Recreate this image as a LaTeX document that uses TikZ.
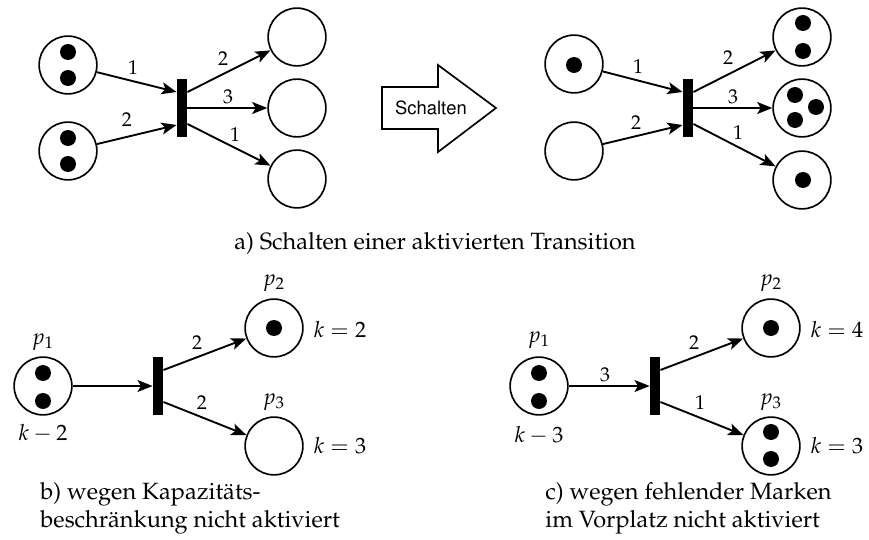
\documentclass[tikz,border=0pt]{standalone}
\usepackage[T1]{fontenc}
\usepackage{mathpazo}
\usepackage[scaled=0.92]{helvet}
\usetikzlibrary{arrows.meta,calc}

\begin{document}
\begin{tikzpicture}[x=0.45pt,y=-0.45pt,
  place/.style={circle,draw,line width=0.75pt,minimum size=26pt,inner sep=0pt},
  trans/.style={rectangle,fill=black,minimum width=4.5pt,minimum height=25.7pt,inner sep=0pt},
  token/.style={circle,fill=black,minimum size=7.2pt,inner sep=0pt},
  arc/.style={line width=0.85pt,-{Stealth[length=6.8pt,width=5.4pt,inset=1.6pt]}},
  wt/.style={font=\small,inner sep=0pt},
  lab/.style={inner sep=0pt},
  captext/.style={inner sep=0pt,align=left,anchor=west,font=\fontsize{10.6}{12.6}\selectfont}]

\useasboundingbox[fill=white] (0,0) rectangle (869,540);

% ---------- a) before firing ----------
\node[place] (aL1) at (68,65) {};
\node[token] (aL1t1) at (68,52) {};
\node[token] (aL1t2) at (68,78) {};
\node[place] (aL2) at (68,151) {};
\node[token] (aL2t1) at (68,138) {};
\node[token] (aL2t2) at (68,164) {};
\node[trans] (aT) at (182,108) {};
\node[place] (aO1) at (297,37) {};
\node[place] (aO2) at (297,108) {};
\node[place] (aO3) at (297,179) {};

\coordinate (aTi1) at ($(aT.west)+(0,-16)$);
\coordinate (aTi2) at ($(aT.west)+(0,17)$);
\coordinate (aTo1) at ($(aT.east)+(0,-16)$);
\coordinate (aTo3) at ($(aT.east)+(0,16)$);
\draw[arc] (aL1) -- (aTi1);
\draw[arc] (aL2) -- (aTi2);
\draw[arc] (aTo1) -- (aO1);
\draw[arc] (aT.east) -- (aO2);
\draw[arc] (aTo3) -- (aO3);
\node[wt] (aw1) at (133,68) {1};
\node[wt] (aw2) at (127,120) {2};
\node[wt] (aw3) at (223,59) {2};
\node[wt] (aw4) at (228,97) {3};
\node[wt] (aw5) at (235,135) {1};

% firing arrow
\draw[line width=0.75pt] (382,87) -- (438,87) -- (438,65) -- (496,108)
  -- (438,152) -- (438,129) -- (382,129) -- cycle;
\node[lab,font=\sffamily\small] (fire) at (431,108) {Schalten};

% ---------- a) after firing ----------
\node[place] (bL1) at (574,64) {};
\node[token] (bL1t1) at (574,65) {};
\node[place] (bL2) at (574,151) {};
\node[trans] (bT) at (688,108) {};
\node[place] (bO1) at (802,37) {};
\node[token] (bO1t1) at (803,23) {};
\node[token] (bO1t2) at (803,51) {};
\node[place] (bO2) at (802,108) {};
\node[token] (bO2t1) at (795,95) {};
\node[token] (bO2t2) at (816,107) {};
\node[token] (bO2t3) at (795,120) {};
\node[place] (bO3) at (802,180) {};
\node[token] (bO3t1) at (803,180) {};

\coordinate (bTi1) at ($(bT.west)+(0,-16)$);
\coordinate (bTi2) at ($(bT.west)+(0,17)$);
\coordinate (bTo1) at ($(bT.east)+(0,-16)$);
\coordinate (bTo3) at ($(bT.east)+(0,16)$);
\draw[arc] (bL1) -- (bTi1);
\draw[arc] (bL2) -- (bTi2);
\draw[arc] (bTo1) -- (bO1);
\draw[arc] (bT.east) -- (bO2);
\draw[arc] (bTo3) -- (bO3);
\node[wt] (bw1) at (638,67) {1};
\node[wt] (bw2) at (636,123) {2};
\node[wt] (bw3) at (728,58) {2};
\node[wt] (bw4) at (733,97) {3};
\node[wt] (bw5) at (738,133) {1};

\node[lab,font=\fontsize{10.6}{12.6}\selectfont] (capa) at (435,243) {a) Schalten einer aktivierten Transition};

% ---------- b) capacity limit ----------
\node[place] (cP1) at (43,386) {};
\node[token] (cP1t1) at (43,373) {};
\node[token] (cP1t2) at (43,401) {};
\node[trans] (cT) at (158,386) {};
\node[place] (cP2) at (274,328) {};
\node[token] (cP2t1) at (274,328) {};
\node[place] (cP3) at (274,446) {};
\node[lab] (cn1) at (43,342) {$p_1$};
\node[lab] (cn2) at (274,283) {$p_2$};
\node[lab] (cn3) at (274,402) {$p_3$};
\node[lab] (ck1) at (43,433) {$k-2$};
\node[lab] (ck2) at (340,330) {$k=2$};
\node[lab] (ck3) at (340,446) {$k=3$};

\coordinate (cTo1) at ($(cT.east)+(0,-16)$);
\coordinate (cTo2) at ($(cT.east)+(0,16)$);
\draw[arc] (cP1) -- (cT.west);
\draw[arc] (cTo1) -- (cP2);
\draw[arc] (cTo2) -- (cP3);
\node[wt] (cw1) at (197,343) {2};
\node[wt] (cw2) at (202,403) {2};

\node[captext] (capb) at (40,508) {b) wegen Kapazit\"ats-\\beschr\"ankung nicht aktiviert};

% ---------- c) missing tokens ----------
\node[place] (dP1) at (539,386) {};
\node[token] (dP1t1) at (539,373) {};
\node[token] (dP1t2) at (539,401) {};
\node[trans] (dT) at (655,386) {};
\node[place] (dP2) at (771,328) {};
\node[token] (dP2t1) at (771,328) {};
\node[place] (dP3) at (771,446) {};
\node[token] (dP3t1) at (771,432) {};
\node[token] (dP3t2) at (771,459) {};
\node[lab] (dn1) at (539,340) {$p_1$};
\node[lab] (dn2) at (771,283) {$p_2$};
\node[lab] (dn3) at (771,402) {$p_3$};
\node[lab] (dk1) at (539,435) {$k-3$};
\node[lab] (dk2) at (837,330) {$k=4$};
\node[lab] (dk3) at (837,446) {$k=3$};

\coordinate (dTo1) at ($(dT.east)+(0,-16)$);
\coordinate (dTo2) at ($(dT.east)+(0,16)$);
\draw[arc] (dP1) -- (dT.west);
\draw[arc] (dTo1) -- (dP2);
\draw[arc] (dTo2) -- (dP3);
\node[wt] (dw0) at (605,375) {3};
\node[wt] (dw1) at (694,343) {2};
\node[wt] (dw2) at (700,403) {1};

\node[captext] (capc) at (545,508) {c) wegen fehlender Marken\\im Vorplatz nicht aktiviert};

\end{tikzpicture}
\end{document}
